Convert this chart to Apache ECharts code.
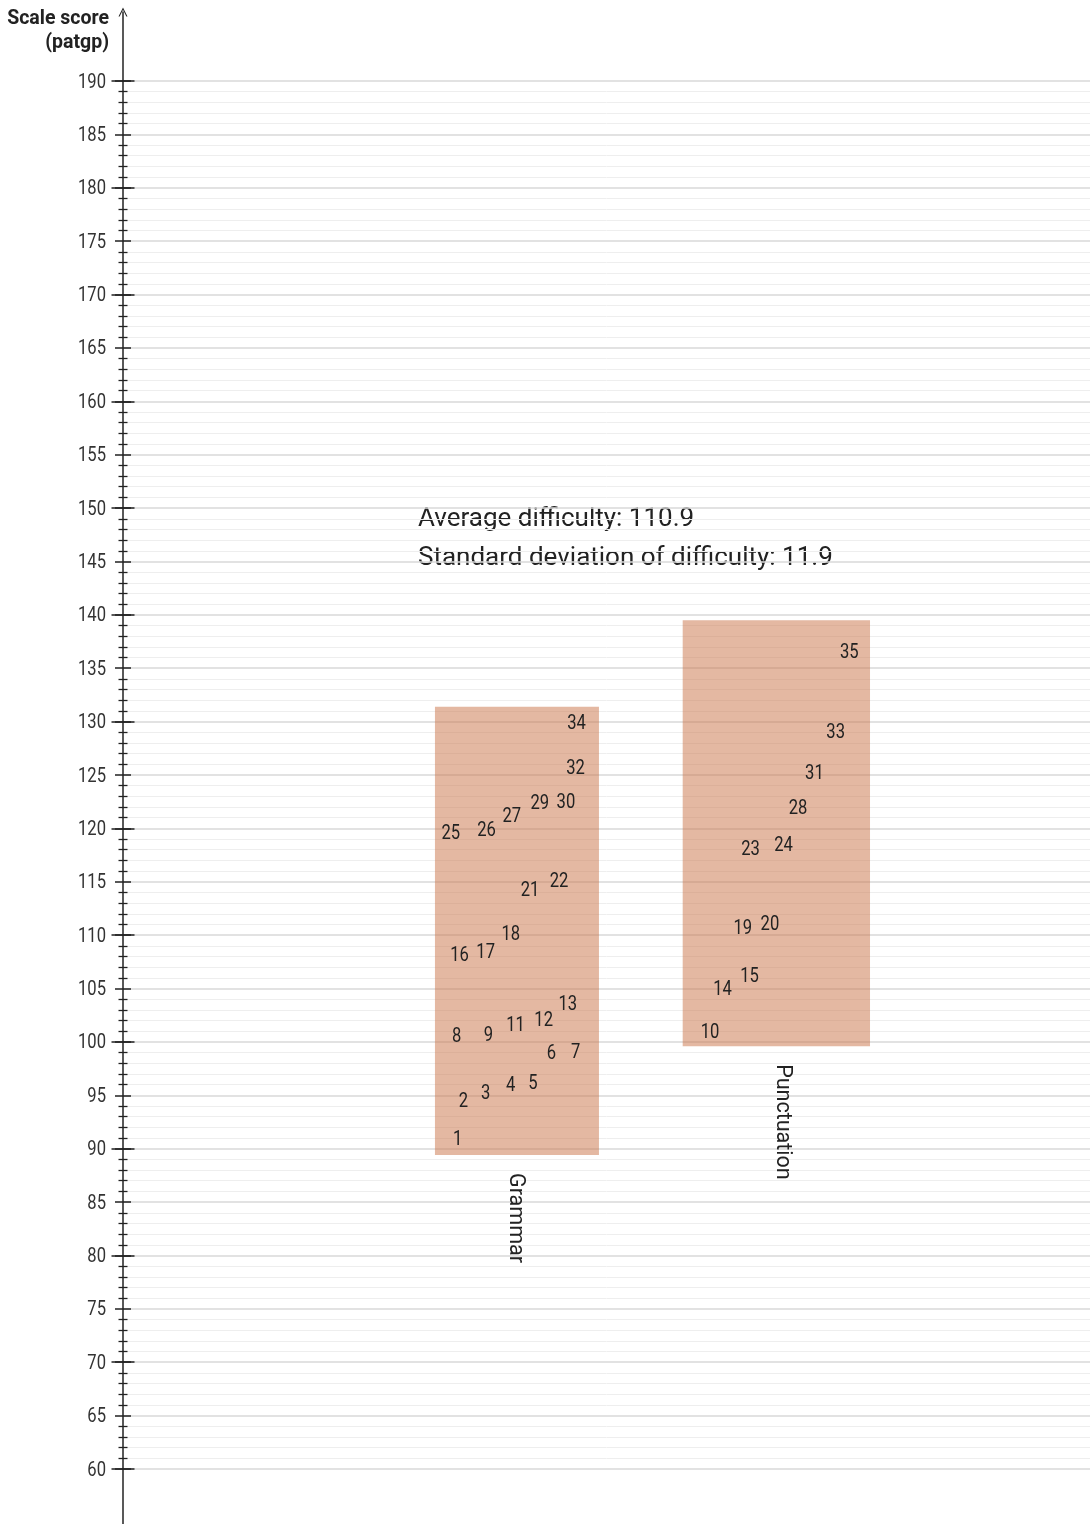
<!DOCTYPE html>
<html>
<head>
<meta charset="utf-8">
<script src="https://cdn.jsdelivr.net/npm/echarts@6/dist/echarts.min.js"></script>
<style>
html,body{margin:0;padding:0;background:#fff;}
#chart{width:1090px;height:1524px;}
</style>
</head>
<body>
<div id="chart"></div>
<script>
// ---- data ----
const categories = ['Grammar', 'Punctuation'];
const boxLow = [89.4, 99.6];
const boxHigh = [131.4, 139.5];
const boxSpreadStart = [32.26, 57.88];
const boxSpreadEnd = [49.22, 77.25];
const categorySpread = [40.6, 68.2];

const grammarIds = [1, 2, 3, 4, 5, 6, 7, 8, 9, 11, 12, 13, 16, 17, 18, 21, 22, 25, 26, 27, 29, 30, 32, 34];
const grammarDifficulty = [91.0, 94.5, 95.3, 96.0, 96.2, 99.0, 99.1, 100.6, 100.7, 101.6, 102.1, 103.6, 108.2, 108.5, 110.2, 114.3, 115.1, 119.6, 119.9, 121.2, 122.4, 122.5, 125.7, 129.9];
const grammarSpread = [34.6, 35.2, 37.5, 40.1, 42.4, 44.3, 46.8, 34.5, 37.8, 40.6, 43.5, 46.0, 34.8, 37.5, 40.1, 42.1, 45.1, 33.9, 37.6, 40.2, 43.1, 45.8, 46.8, 46.9];

const punctIds = [10, 14, 15, 19, 20, 23, 24, 28, 31, 33, 35];
const punctDifficulty = [101.0, 105.0, 106.2, 110.7, 111.1, 118.1, 118.5, 122.0, 125.2, 129.1, 136.6];
const punctSpread = [60.7, 62.0, 64.8, 64.1, 66.9, 64.9, 68.3, 69.8, 71.5, 73.7, 75.1];

const tickLabels = [60, 65, 70, 75, 80, 85, 90, 95, 100, 105, 110, 115, 120, 125, 130, 135, 140, 145, 150, 155, 160, 165, 170, 175, 180, 185, 190];
const yMin = 60, yMax = 190, yInterval = 5;
const axisTitle = 'Scale score\n(patgp)';
const annotationLines = ['Average difficulty: 110.9', 'Standard deviation of difficulty: 11.9'];

// ---- build ----
const CONDENSE = 0.83;
const DIGIT_SHIFT = 1.5;
const boxData = categories.map((c, i) => [boxSpreadStart[i], boxSpreadEnd[i], boxLow[i], boxHigh[i], categorySpread[i]]);
const itemData = [];
grammarIds.forEach((id, i) => itemData.push([grammarSpread[i], grammarDifficulty[i], id]));
punctIds.forEach((id, i) => itemData.push([punctSpread[i], punctDifficulty[i], id]));
const tickData = tickLabels.map(v => [0, v]);

const tickBase = {
  gridIndex: 1, type: 'value', position: 'left', min: yMin, max: yMax,
  axisLine: { show: false, onZero: false },
  axisLabel: { show: false },
  splitLine: { show: false }
};

const chart = echarts.init(document.getElementById('chart'), null, { renderer: 'canvas' });
const option = {
  backgroundColor: '#ffffff',
  animation: false,
  grid: [
    { left: 123, right: 0, top: 12, bottom: 0, outerBoundsMode: 'none', containLabel: false },
    { left: 123, right: 0, top: 81, bottom: 55, outerBoundsMode: 'none', containLabel: false }
  ],
  xAxis: [
    { gridIndex: 0, type: 'value', min: 0, max: 100, show: false },
    { gridIndex: 1, type: 'value', min: 0, max: 100, show: false }
  ],
  yAxis: [
    { gridIndex: 0, type: 'value', min: 0, max: 1, position: 'left',
      axisLine: { show: true, onZero: false, symbol: ['none', 'path://M5,0 L10,10 L8.7,10 L5,2.6 L1.3,10 L0,10 Z'], symbolSize: [9, 11],
        lineStyle: { color: '#222', width: 1.5 } },
      axisTick: { show: false }, axisLabel: { show: false }, splitLine: { show: false } },
    Object.assign({}, tickBase, {
      interval: yInterval,
      axisTick: { show: true, inside: false, length: 8, lineStyle: { color: '#222', width: 1.5 } },
      minorTick: { show: true, splitNumber: 5, length: 4.5, lineStyle: { color: '#222', width: 1.3 } },
      splitLine: { show: true, lineStyle: { color: '#d9d9d9', width: 1.5 } },
      minorSplitLine: { show: true, lineStyle: { color: '#eeeeee', width: 1 } }
    }),
    Object.assign({}, tickBase, {
      interval: yInterval,
      axisTick: { show: true, inside: true, length: 8, lineStyle: { color: '#222', width: 1.5 } },
      minorTick: { show: true, splitNumber: 5, length: 4.5, lineStyle: { color: '#222', width: 1.3 } }
    }),
    Object.assign({}, tickBase, {
      interval: yInterval * 2,
      axisTick: { show: true, inside: false, length: 11.5, lineStyle: { color: '#222', width: 1.5 } }
    }),
    Object.assign({}, tickBase, {
      interval: yInterval * 2,
      axisTick: { show: true, inside: true, length: 11.5, lineStyle: { color: '#222', width: 1.5 } }
    })
  ],
  series: [
    {
      type: 'custom', xAxisIndex: 1, yAxisIndex: 1, clip: false,
      data: boxData,
      encode: { x: [0, 1], y: [2, 3] },
      renderItem: function (params, api) {
        const x0 = api.value(0), x1 = api.value(1), y0 = api.value(2), y1 = api.value(3), lx = api.value(4);
        const pTop = api.coord([x0, y1]);
        const pBot = api.coord([x1, y0]);
        const lp = api.coord([lx, y0]);
        return {
          type: 'group',
          children: [
            { type: 'rect', shape: { x: pTop[0], y: pTop[1], width: pBot[0] - pTop[0], height: pBot[1] - pTop[1] },
              style: { fill: 'rgba(201,113,70,0.5)' } },
            { type: 'text', x: lp[0], y: lp[1] + 18, rotation: -Math.PI / 2,
              style: { text: categories[params.dataIndex], align: 'left', verticalAlign: 'middle',
                font: '21.5px Roboto, sans-serif', fill: '#222' } }
          ]
        };
      },
      z: 2
    },
    {
      type: 'custom', xAxisIndex: 1, yAxisIndex: 1, clip: false,
      data: itemData,
      encode: { x: 0, y: 1 },
      renderItem: function (params, api) {
        const p = api.coord([api.value(0), api.value(1)]);
        return { type: 'text', x: p[0], y: p[1] + DIGIT_SHIFT, scaleX: CONDENSE,
          style: { text: String(api.value(2)), align: 'center', verticalAlign: 'middle',
            font: '20px Roboto, sans-serif', fill: '#222' } };
      },
      z: 3
    },
    {
      type: 'custom', xAxisIndex: 1, yAxisIndex: 1, clip: false,
      data: tickData,
      encode: { x: 0, y: 1 },
      renderItem: function (params, api) {
        const p = api.coord([api.value(0), api.value(1)]);
        return { type: 'text', x: p[0] - 17, y: p[1] + DIGIT_SHIFT, scaleX: CONDENSE,
          style: { text: String(api.value(1)), align: 'right', verticalAlign: 'middle',
            font: '20px Roboto, sans-serif', fill: '#333' } };
      },
      z: 3
    }
  ],
  graphic: [
    { type: 'text', x: 109, y: 7, style: { text: axisTitle, align: 'right', verticalAlign: 'top',
      font: 'bold 19.5px Roboto, sans-serif', lineHeight: 24, fill: '#222' } },
    { type: 'text', x: 418, y: 519, style: { text: annotationLines[0], align: 'left', verticalAlign: 'middle',
      font: '26px Roboto, sans-serif', fill: '#222' } },
    { type: 'text', x: 418, y: 558, style: { text: annotationLines[1], align: 'left', verticalAlign: 'middle',
      font: '26px Roboto, sans-serif', fill: '#222' } }
  ]
};
chart.setOption(option);
</script>
</body>
</html>
